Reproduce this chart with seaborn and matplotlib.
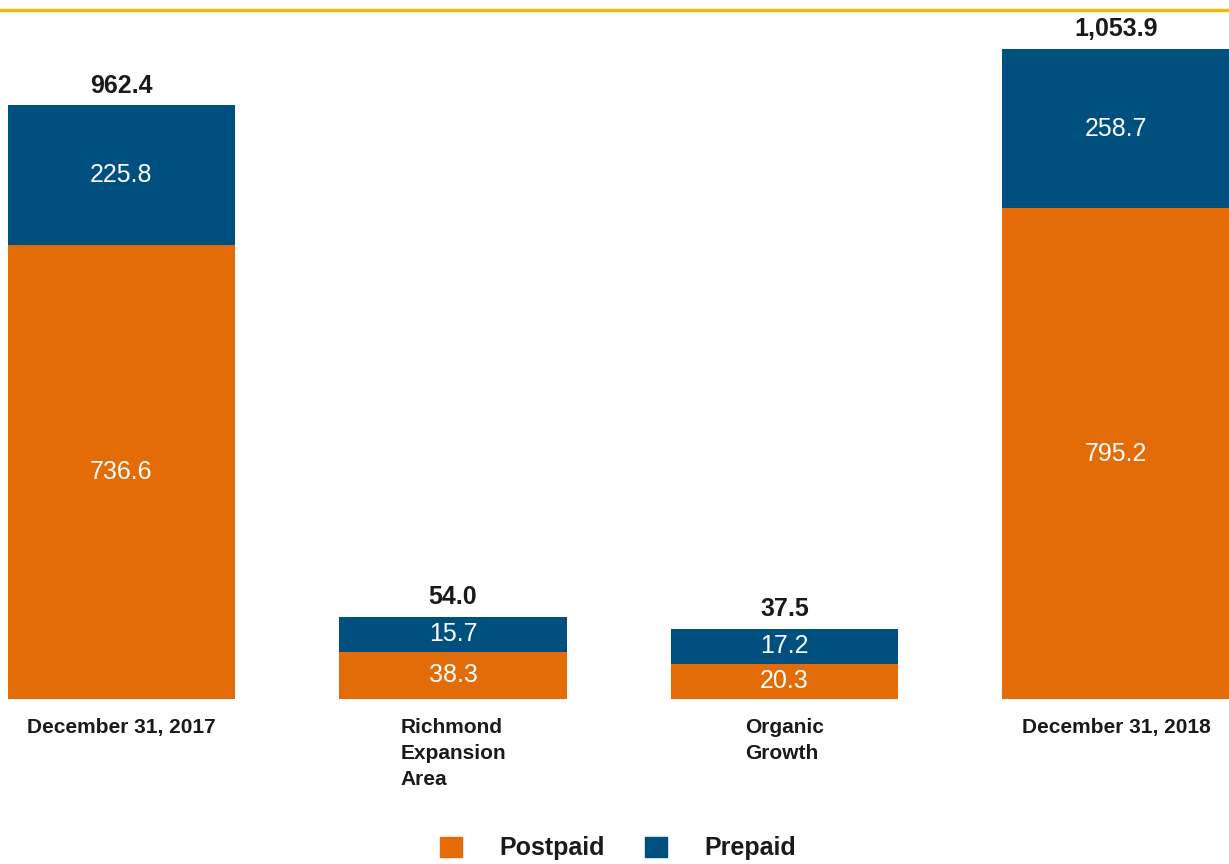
import numpy as np
import pandas as pd
import seaborn as sns
import matplotlib.pyplot as plt
from matplotlib.patches import Patch
from matplotlib.lines import Line2D

# datos del grafico (miles de suscriptores)
categorias = ['December 31, 2017', 'Richmond\nExpansion\nArea', 'Organic\nGrowth', 'December 31, 2018']
postpaid = [736.6, 38.3, 20.3, 795.2]
prepaid = [225.8, 15.7, 17.2, 258.7]
totales = ['962.4', '54.0', '37.5', '1,053.9']

# en el original las barras del medio estan agrandadas para que se lean
escala = np.array([1, 2, 2, 1])
minimo = 57

naranja = '#E36C09'
azul = '#00507F'

sns.set_style('white')
plt.rcParams['font.family'] = ['Liberation Sans', 'DejaVu Sans']

post_vis = np.maximum(np.array(postpaid) * escala, minimo)
pre_vis = np.maximum(np.array(prepaid) * escala, minimo)
df = pd.DataFrame({'cat': categorias, 'post': post_vis, 'total': post_vis + pre_vis})

fig = plt.figure(figsize=(12.29, 8.64), dpi=100)
ax = fig.add_axes([0, 165 / 864, 1, 699 / 864])

# barra completa en azul y encima la parte naranja
sns.barplot(data=df, x='cat', y='total', color=azul, saturation=1, width=0.685,
            linewidth=0, ax=ax)
sns.barplot(data=df, x='cat', y='post', color=naranja, saturation=1, width=0.685,
            linewidth=0, ax=ax)

for i in range(len(categorias)):
    ax.text(i, post_vis[i] / 2, f'{postpaid[i]:.1f}', ha='center', va='center',
            color='white', fontsize=18)
    ax.text(i, post_vis[i] + pre_vis[i] / 2, f'{prepaid[i]:.1f}', ha='center', va='center',
            color='white', fontsize=18)
    ax.annotate(totales[i], (i, post_vis[i] + pre_vis[i]), xytext=(0, 9),
                textcoords='offset points', ha='center', va='baseline',
                fontsize=18, fontweight='bold', color='#1a1a1a')

ax.set_xlim(-0.3665, 3.341)
ax.set_ylim(0, 699 / 0.617)
ax.set_xlabel('')
ax.set_ylabel('')
ax.set_yticks([])
ax.tick_params(axis='x', length=0, pad=14)
for t in ax.get_xticklabels():
    t.set_fontsize(15)
    t.set_fontweight('bold')
    t.set_color('#1a1a1a')
    t.set_multialignment('left')
    t.set_linespacing(1.45)
    t.set_verticalalignment('top')
sns.despine(ax=ax, left=True, bottom=True)

# linea dorada de arriba
fig.add_artist(Line2D([0, 1], [1 - 10 / 864, 1 - 10 / 864], transform=fig.transFigure,
                      color='#F5B80A', linewidth=2.5))

handles = [Patch(color=naranja, label='Postpaid'), Patch(color=azul, label='Prepaid')]
leg = fig.legend(handles=handles, loc='center', bbox_to_anchor=(0.503, 0.018), ncol=2,
                 frameon=False, handlelength=0.88, handleheight=0.88, handletextpad=1.5,
                 columnspacing=1.6, borderpad=0, prop={'size': 18, 'weight': 'bold'})
for t in leg.get_texts():
    t.set_color('#1a1a1a')

fig.savefig('out.png', dpi=100)
